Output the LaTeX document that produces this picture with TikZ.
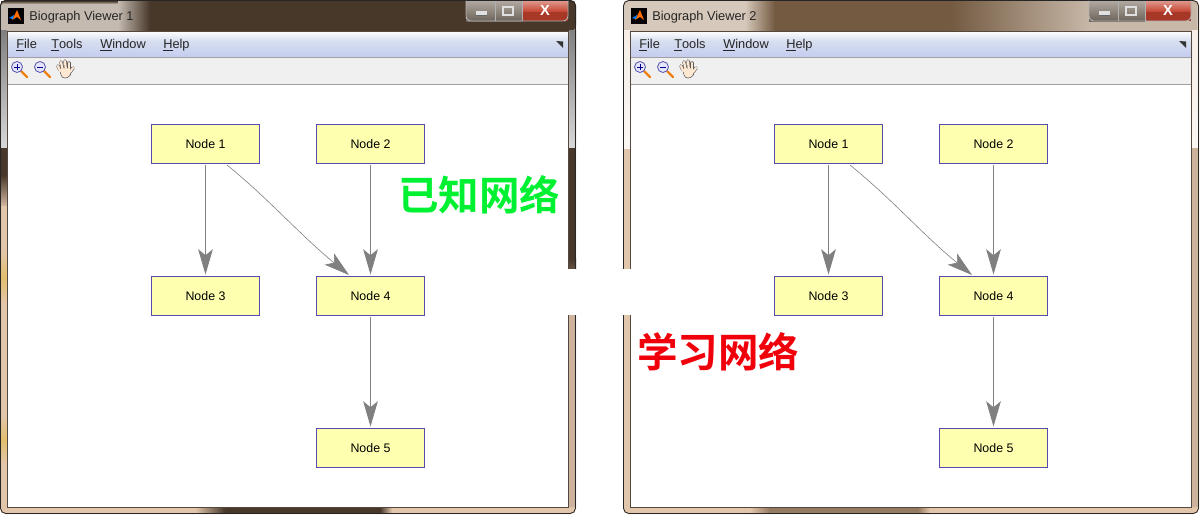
\documentclass[tikz,border=0pt]{standalone}
\usepackage{fontspec}
\setmainfont{Liberation Sans}
\newfontfamily\cjk{Noto Sans CJK SC}[BoldFont={* Bold}]
\usetikzlibrary{arrows.meta,shapes.geometric}
\definecolor{nodefill}{RGB}{255,255,176}
\definecolor{nodeline}{RGB}{85,75,170}
\definecolor{edgegray}{RGB}{128,128,128}
\definecolor{frameT}{RGB}{226,198,172}
\definecolor{frameR}{RGB}{205,178,156}
\definecolor{frameD}{RGB}{72,56,42}
\definecolor{frameL}{RGB}{85,72,62}
\definecolor{glow}{RGB}{196,186,176}
\definecolor{gold}{RGB}{226,190,110}
\definecolor{titleB}{RGB}{115,90,65}
\definecolor{titleL}{RGB}{214,200,186}
\definecolor{menuA}{RGB}{250,251,254}
\definecolor{menuB}{RGB}{214,222,239}
\definecolor{toolbar}{RGB}{240,240,240}
\definecolor{sep}{RGB}{160,160,160}
\definecolor{winred}{RGB}{196,66,46}
\definecolor{btnA}{RGB}{176,168,160}
\definecolor{btnB}{RGB}{110,100,92}
\tikzset{
  x=0.75pt,y=-0.75pt,
  biobox/.style={draw=nodeline,line width=0.75pt,fill=nodefill,minimum width=81.4pt,minimum height=29.4pt,inner sep=0pt,font=\fontsize{9.3}{10}\selectfont},
  bioedge/.style={draw=edgegray,line width=0.75pt,-{Stealth[length=19pt,width=11pt,inset=4.5pt,fill=edgegray]}},
  thinedge/.style={draw=edgegray,line width=0.45pt,-{Stealth[length=19pt,width=11pt,inset=4.5pt,fill=edgegray]}},
  menuitem/.style={font=\fontsize{9.6}{11}\selectfont,text=black!85,anchor=base west,inner sep=0pt},
  titletext/.style={font=\fontsize{9.6}{11}\selectfont,text=black!85,anchor=base west,inner sep=0pt},
  bigtext/.style={font=\cjk\bfseries\fontsize{30.4}{32}\selectfont,inner sep=0pt,anchor=west}
}
\newcommand{\lens}[2]{%
  \draw[orange!75!brown,line width=1.6pt,line cap=round] (#1+4,#2+4) -- (#1+10,#2+10);
  \draw[blue!35!gray,fill=blue!10,line width=0.6pt] (#1,#2) circle[radius=5.5];}
\newcommand{\plussign}[2]{\draw[blue!55!black,line width=0.6pt] (#1-3,#2) -- (#1+3,#2) (#1,#2-3) -- (#1,#2+3);}
\newcommand{\minussign}[2]{\draw[blue!55!black,line width=0.6pt] (#1-3,#2) -- (#1+3,#2);}
\newcommand{\hand}[2]{%
  \foreach \dx/\ex/\ey in {-5/-7/-4,-2/-4/-8,1/0/-9,4/4/-7}{
    \draw[black!65,line width=2.6pt,line cap=round] (#1+\dx,#2) -- (#1+\ex,#2+\ey);
  }
  \draw[black!65,line width=2.6pt,line cap=round] (#1+5,#2+2) -- (#1+8,#2-2);
  \draw[black!65,fill=orange!18,line width=0.4pt,rounded corners=2pt] (#1-6,#2-2) -- (#1+6,#2-2) -- (#1+6,#2+4) -- (#1+3,#2+8) -- (#1-3,#2+8) -- cycle;
  \foreach \dx/\ex/\ey in {-5/-7/-4,-2/-4/-8,1/0/-9,4/4/-7}{
    \draw[orange!18,line width=1.7pt,line cap=round] (#1+\dx,#2+1) -- (#1+\ex,#2+\ey);
  }
  \draw[orange!18,line width=1.7pt,line cap=round] (#1+5,#2+2) -- (#1+8,#2-2);}
\newcommand{\capbuttons}[1]{%
  \shade[top color=btnA,bottom color=btnB] (#1,1) rectangle (#1+56,21);
  \shade[top color=winred!55!white,bottom color=winred] (#1+56,1) rectangle (#1+102,12);
  \fill[winred!85!black] (#1+56,12) rectangle (#1+102,21);
  \draw[white!70!black,line width=0.5pt,rounded corners=2pt] (#1,0.5) -- (#1,18) -- (#1+3,21) -- (#1+99,21) -- (#1+102,18) -- (#1+102,0.5);
  \draw[white!70!black,line width=0.4pt] (#1+29,1) -- (#1+29,21) (#1+56,1) -- (#1+56,21);
  \fill[white!88!black] (#1+10,11) rectangle (#1+21,15);
  \draw[white!88!black,line width=0.9pt] (#1+37,7) rectangle (#1+47,15);
  \draw[black!60,line width=0.4pt] (#1+10,15) -- (#1+21,15);}
\begin{document}
\begin{tikzpicture}
\useasboundingbox (0,0) rectangle (1200,515);
\fill[white] (0,0) rectangle (1200,515);

% ===== left window =====
\fill[frameT,rounded corners=4pt] (0,0) rectangle (576,514);
\fill[frameD,rounded corners=4pt] (0,0) rectangle (576,31);
\fill[glow] (1,4) rectangle (118,31);
\shade[top color=frameD,bottom color=glow] (1,1) rectangle (118,4);
\shade[left color=glow,right color=frameD] (118,1) rectangle (150,31);
% sides
\shade[top color=black!50,bottom color=black!15] (0,30) rectangle (7,148);
\shade[top color=black!50,bottom color=black!15] (569,30) rectangle (576,148);
\fill[frameD] (0,148) rectangle (7,175);
\shade[top color=frameD,bottom color=frameR] (0,175) rectangle (7,205);
\shade[top color=frameT,bottom color=frameT,middle color=gold] (0,250) rectangle (7,305);
\shade[top color=frameT,bottom color=frameT,middle color=gold] (0,415) rectangle (7,465);
\fill[frameD] (569,148) rectangle (576,258);
\shade[top color=frameD,bottom color=frameD!80!frameR] (569,258) rectangle (576,269);
\fill[frameR] (569,315) rectangle (576,507);
\shade[left color=frameT,right color=frameD] (195,507) rectangle (225,513);
\fill[frameD] (225,507) rectangle (380,513);
\shade[left color=frameD,right color=frameT] (380,507) rectangle (392,513);
\draw[black!85,line width=0.6pt,rounded corners=4pt] (0.5,0.5) rectangle (575.5,513.5);

\fill[white] (7,31) rectangle (569,507);
\shade[top color=white,bottom color=menuB] (7,31) rectangle (569,41);
\shade[top color=menuB,bottom color=menuB!92!blue] (7,41) rectangle (569,57);
\fill[toolbar] (7,57) rectangle (569,84);
\draw[sep,line width=0.5pt] (7,57.5) -- (569,57.5);
\draw[sep,line width=0.7pt] (7,84) -- (569,84);
\draw[frameL,line width=0.7pt] (7.5,31) rectangle (568.5,507);

% title bar
\fill[black] (8,8) rectangle (24,24);
\fill[orange!85!red] (12,20) -- (17,10) -- (21,20) -- (17,17) -- cycle;
\fill[blue!50!cyan] (9,18) -- (14,15) -- (13,19) -- cycle;
\node[titletext] (t1) at (29,20) {Biograph Viewer 1};
\capbuttons{466}
\node[font=\bfseries\fontsize{11}{11}\selectfont,text=white,inner sep=0pt] (x1) at (545,10.5) {X};

\node[menuitem] (f1) at (16,48) {\underline{F}ile};
\node[menuitem] (f2) at (51,48) {\underline{T}ools};
\node[menuitem] (f3) at (100,48) {\underline{W}indow};
\node[menuitem] (f4) at (163,48) {\underline{H}elp};
\fill[black!80] (556,41) -- (563,48) -- (563,41.5) -- cycle;
\lens{17}{67}\plussign{17}{67}
\lens{40}{67}\minussign{40}{67}
\hand{65}{70}

% ===== right window =====
\fill[frameT,rounded corners=4pt] (623,0) rectangle (1199,514);
\fill[titleL,rounded corners=4pt] (623,0) rectangle (1199,31);
\shade[left color=titleL,right color=titleB] (745,1) rectangle (775,31);
\fill[titleB] (775,1) rectangle (950,31);
\shade[left color=titleB,right color=titleL!85!titleB] (950,1) rectangle (1090,31);
\fill[titleL!85!titleB] (1090,1) rectangle (1197,31);
\shade[top color=white!70!frameT,bottom color=white!85!frameT] (623.6,30) rectangle (630,148);
\shade[top color=white!70!frameT,bottom color=white!85!frameT] (1192,30) rectangle (1198.4,148);
\fill[frameR] (1192,148) rectangle (1199,507);
\shade[left color=frameT,right color=titleB!70!frameT] (750,507) rectangle (770,513);
\fill[titleB!70!frameT] (770,507) rectangle (918,513);
\shade[left color=titleB!70!frameT,right color=frameT] (918,507) rectangle (930,513);
\draw[black!85,line width=0.6pt,rounded corners=4pt] (623.5,0.5) rectangle (1198.5,513.5);

\fill[white] (630,31) rectangle (1192,507);
\shade[top color=white,bottom color=menuB] (630,31) rectangle (1192,41);
\shade[top color=menuB,bottom color=menuB!92!blue] (630,41) rectangle (1192,57);
\fill[toolbar] (630,57) rectangle (1192,84);
\draw[sep,line width=0.5pt] (630,57.5) -- (1192,57.5);
\draw[sep,line width=0.7pt] (630,84) -- (1192,84);
\draw[frameL,line width=0.7pt] (630.5,31) rectangle (1191.5,507);

\fill[black] (631,8) rectangle (647,24);
\fill[orange!85!red] (635,20) -- (640,10) -- (644,20) -- (640,17) -- cycle;
\fill[blue!50!cyan] (632,18) -- (637,15) -- (636,19) -- cycle;
\node[titletext] (t2) at (652,20) {Biograph Viewer 2};
\capbuttons{1089}
\node[font=\bfseries\fontsize{11}{11}\selectfont,text=white,inner sep=0pt] (x2) at (1168,10.5) {X};

\node[menuitem] (g1) at (639,48) {\underline{F}ile};
\node[menuitem] (g2) at (674,48) {\underline{T}ools};
\node[menuitem] (g3) at (723,48) {\underline{W}indow};
\node[menuitem] (g4) at (786,48) {\underline{H}elp};
\fill[black!80] (1179,41) -- (1186,48) -- (1186,41.5) -- cycle;
\lens{640}{67}\plussign{640}{67}
\lens{663}{67}\minussign{663}{67}
\hand{688}{70}

% white strip between the windows
\fill[white] (566,269) rectangle (632,315);

% ===== graph 1 =====
\node[biobox] (a1) at (205.5,144) {Node 1};
\node[biobox] (a2) at (370.5,144) {Node 2};
\node[biobox] (a3) at (205.5,296) {Node 3};
\node[biobox] (a4) at (370.5,296) {Node 4};
\node[biobox] (a5) at (370.5,448) {Node 5};
\draw[bioedge] (a1.south) ++(0,1) -- ([yshift=1pt]a3.north);
\draw[bioedge] (a2.south) ++(0,1) -- ([yshift=1pt]a4.north);
\draw[bioedge] (a4.south) ++(0,1) -- ([yshift=1pt]a5.north);
\coordinate (s1) at (227,165);
\coordinate (e1) at (349,275);
\draw[thinedge] (s1) .. controls (270,200) and (300,235) .. (e1);

% ===== graph 2 =====
\node[biobox] (b1) at (828.5,144) {Node 1};
\node[biobox] (b2) at (993.5,144) {Node 2};
\node[biobox] (b3) at (828.5,296) {Node 3};
\node[biobox] (b4) at (993.5,296) {Node 4};
\node[biobox] (b5) at (993.5,448) {Node 5};
\draw[bioedge] (b1.south) ++(0,1) -- ([yshift=1pt]b3.north);
\draw[bioedge] (b2.south) ++(0,1) -- ([yshift=1pt]b4.north);
\draw[bioedge] (b4.south) ++(0,1) -- ([yshift=1pt]b5.north);
\coordinate (s2) at (850,165);
\coordinate (e2) at (972,275);
\draw[thinedge] (s2) .. controls (893,200) and (923,235) .. (e2);

% ===== labels =====
\node[bigtext,text={rgb,255:red,0;green,240;blue,50}] (lab1) at (398,195) {已知网络};
\node[bigtext,text={rgb,255:red,240;green,0;blue,10}] (lab2) at (637,352) {学习网络};
\end{tikzpicture}
\end{document}
